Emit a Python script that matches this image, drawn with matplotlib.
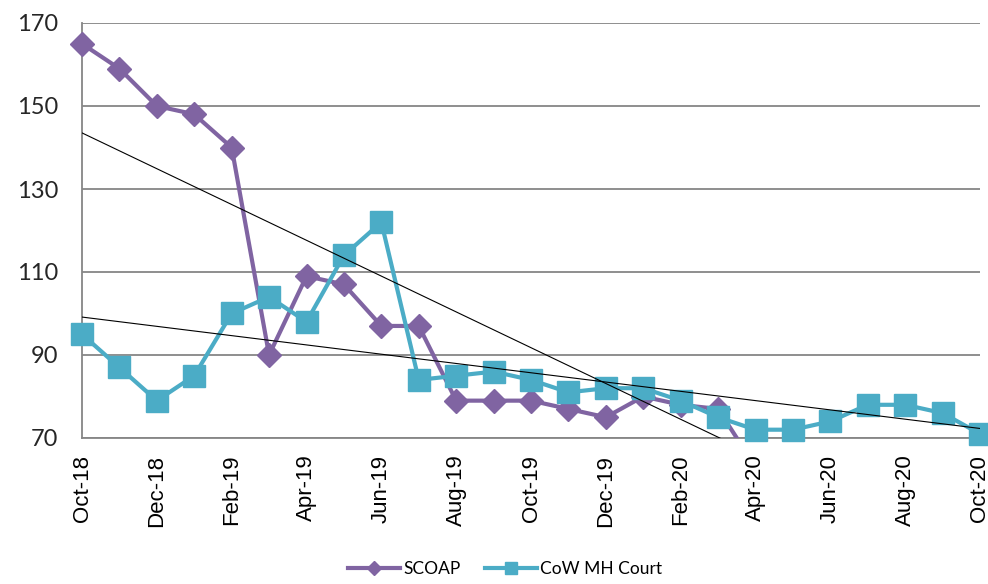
import matplotlib
matplotlib.use('Agg')
import matplotlib.pyplot as plt
import numpy as np

# monthly series, Oct-18 .. Oct-20
months = ['Oct-18', 'Nov-18', 'Dec-18', 'Jan-19', 'Feb-19', 'Mar-19', 'Apr-19',
          'May-19', 'Jun-19', 'Jul-19', 'Aug-19', 'Sep-19', 'Oct-19', 'Nov-19',
          'Dec-19', 'Jan-20', 'Feb-20', 'Mar-20', 'Apr-20', 'May-20', 'Jun-20',
          'Jul-20', 'Aug-20', 'Sep-20', 'Oct-20']
# SCOAP drops below the axis after Mar-20 - hidden values are estimates
scoap = [165, 159, 150, 148, 140, 90, 109, 107, 97, 97, 79, 79, 79, 77, 75,
         80, 78, 77, 63, 60, 58, 56, 58, 57, 56]
cow = [95, 87, 79, 85, 100, 104, 98, 114, 122, 84, 85, 86, 84, 81, 82,
       82, 79, 75, 72, 72, 74, 78, 78, 76, 71]

purple = '#8064A2'
teal = '#4BACC6'

x = np.arange(len(months))
scoap = np.array(scoap, dtype=float)
cow = np.array(cow, dtype=float)

fig = plt.figure(figsize=(9.88, 5.84), dpi=100)
ax = fig.add_axes([82/988, 1 - 438/584, (980 - 82)/988, (438 - 23)/584])

# SCOAP line (clipped at axis) + its visible markers (not clipped)
ax.plot(x, scoap, color=purple, lw=3, zorder=3)
vis = scoap >= 70
ax.plot(x[vis], scoap[vis], ls='none', marker='D', ms=12, color=purple,
        clip_on=False, zorder=3)

ax.plot(x, cow, color=teal, lw=3, marker='s', ms=16, clip_on=False, zorder=4)

# linear trend lines
for s in (scoap, cow):
    k, b = np.polyfit(x, s, 1)
    ax.plot(x, k * x + b, color='black', lw=0.8, zorder=5)

ax.set_xlim(0, 24)
ax.set_ylim(70, 170)
ax.set_yticks([70, 90, 110, 130, 150, 170])
ax.set_xticks(x[::2])
ax.set_xticklabels(months[::2], rotation=90, fontsize=16,
                   family='Liberation Sans')
for lab in ax.get_yticklabels():
    lab.set_family('Lato')
    lab.set_fontsize(17)
ax.tick_params(axis='y', length=0, pad=17, colors='#262626')
ax.tick_params(axis='x', length=0, pad=12, colors='black')

ax.grid(axis='y', color='#868686', lw=1.3)
ax.set_axisbelow(True)
for sp in ['top', 'right']:
    ax.spines[sp].set_visible(False)
for sp in ['left', 'bottom']:
    ax.spines[sp].set_color('#868686')
    ax.spines[sp].set_linewidth(1.3)

h1, = ax.plot([], [], color=purple, lw=3, marker='D', ms=7, label='SCOAP')
h2, = ax.plot([], [], color=teal, lw=3, marker='s', ms=9, label='CoW MH Court')
fig.legend(handles=[h1, h2], loc='center', bbox_to_anchor=(505/988, 1 - 569/584),
           ncol=2, frameon=False, prop={'family': 'Lato', 'size': 12.5},
           handlelength=3.0, handletextpad=0.2, columnspacing=1.4)

fig.savefig('out.png', dpi=100)
